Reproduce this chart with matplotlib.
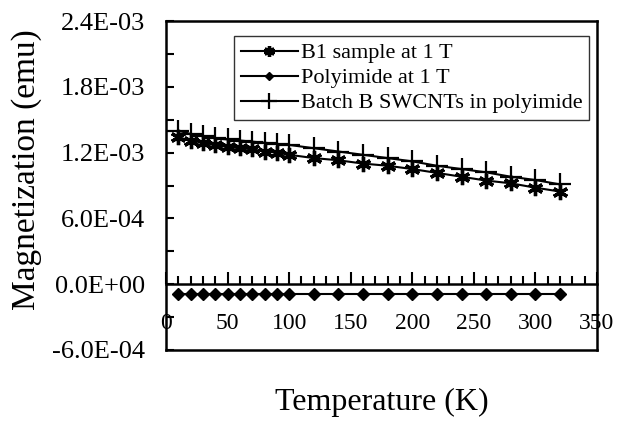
import matplotlib
matplotlib.use("Agg")
import matplotlib.pyplot as plt
from matplotlib.ticker import MultipleLocator, FuncFormatter

plt.rcParams['font.family'] = ['Liberation Serif', 'DejaVu Serif']

# temperature points (K)
temps = [10, 20, 30, 40, 50, 60, 70, 80, 90, 100,
         120, 140, 160, 180, 200, 220, 240, 260, 280, 300, 320]

# magnetization (emu)
b1_sample = [1.34e-3, 1.31e-3, 1.29e-3, 1.27e-3, 1.25e-3, 1.24e-3, 1.23e-3,
             1.21e-3, 1.20e-3, 1.18e-3, 1.15e-3, 1.13e-3, 1.10e-3, 1.08e-3,
             1.05e-3, 1.015e-3, 9.8e-4, 9.45e-4, 9.2e-4, 8.8e-4, 8.45e-4]
polyimide = [-9e-5] * 21
batch_b = [1.40e-3, 1.37e-3, 1.35e-3, 1.33e-3, 1.32e-3, 1.31e-3, 1.30e-3,
           1.29e-3, 1.28e-3, 1.27e-3, 1.24e-3, 1.21e-3, 1.18e-3, 1.15e-3,
           1.12e-3, 1.08e-3, 1.05e-3, 1.02e-3, 9.8e-4, 9.5e-4, 9.1e-4]

labels = ["B1 sample at 1 T", "Polyimide at 1 T", "Batch B SWCNTs in polyimide"]
x_ticks = [0, 50, 100, 150, 200, 250, 300, 350]

fig = plt.figure(figsize=(6.23, 4.28), dpi=100)
fig.subplots_adjust(left=166/623, right=597/623, top=1-21/428, bottom=1-350/428)
ax = fig.add_subplot(111)

ax.plot(temps, b1_sample, color='black', lw=1.5, marker=(6, 2, 0), ms=11, mew=2.4, label=labels[0])
ax.plot(temps, polyimide, color='black', lw=1.5, marker='D', ms=6, label=labels[1])
ax.plot(temps, batch_b, color='black', lw=1.5, marker='+', ms=16, mew=1.6, label=labels[2])

ax.set_xlim(0, 350)
ax.set_ylim(-6e-4, 2.4e-3)

for s in ax.spines.values():
    s.set_linewidth(1.8)

# y axis
ax.yaxis.set_major_locator(MultipleLocator(6e-4))
ax.yaxis.set_minor_locator(MultipleLocator(3e-4))
ax.yaxis.set_major_formatter(FuncFormatter(lambda v, p: '{:.1E}'.format(0 if abs(v) < 1e-12 else v)))
ax.tick_params(axis='y', which='both', direction='in', length=6, width=1.5, labelsize=19, pad=15)
ax.set_xticks([])

# x axis crossing at y = 0
sec = ax.secondary_xaxis(0, transform=ax.transData)
sec.spines['bottom'].set_linewidth(1.8)
sec.set_xticks(x_ticks)
sec.xaxis.set_minor_locator(MultipleLocator(10))
sec.tick_params(axis='x', which='major', direction='in', length=9, width=1.5, labelsize=17, pad=21)
sec.tick_params(axis='x', which='minor', direction='in', length=6, width=1.5)

ax.set_ylabel("Magnetization (emu)", fontsize=24, va='center')
ax.yaxis.set_label_coords((27-166)/431, (350-170)/329)
ax.set_xlabel("Temperature (K)", fontsize=23, va='center')
ax.xaxis.set_label_coords(0.5, (350-402)/329)

leg = ax.legend(loc='upper right', bbox_to_anchor=(0.981, 0.954), borderaxespad=0,
                fancybox=False, edgecolor='black', fontsize=16, handlelength=2.6,
                handletextpad=0.1, labelspacing=0.2, borderpad=0.3, markerscale=0.7)
leg.get_frame().set_linewidth(1.0)

fig.savefig("out.png", dpi=100)
